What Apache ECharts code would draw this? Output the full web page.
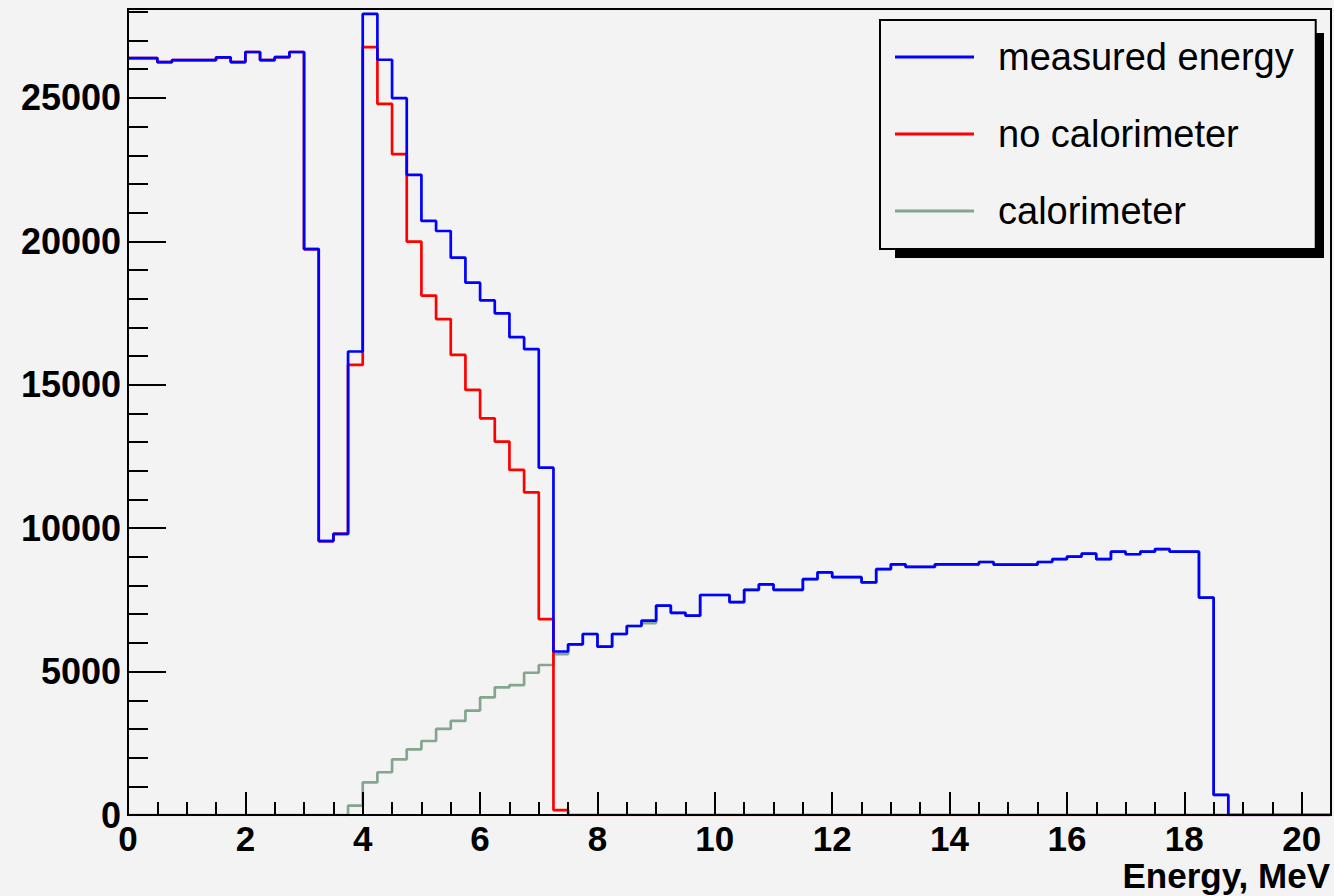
<!DOCTYPE html>
<html>
<head>
<meta charset="utf-8">
<title>Energy spectrum</title>
<script src="https://cdn.jsdelivr.net/npm/echarts@6/dist/echarts.min.js"></script>
<style>
  html, body { margin: 0; padding: 0; background: #f3f3f3; }
  #chart { width: 1334px; height: 896px; }
</style>
</head>
<body>
<div id="chart"></div>
<script>
// Histogram binning (MeV) and axis ranges
const BIN_WIDTH = 0.25;
const X_RANGE = [0, 20.5];
const Y_RANGE = [0, 28100];

const xTickLabels = ['0', '2', '4', '6', '8', '10', '12', '14', '16', '18', '20'];
const yTickLabels = ['0', '5000', '10000', '15000', '20000', '25000'];
const xAxisTitle = 'Energy, MeV';
const seriesNames = ['measured energy', 'no calorimeter', 'calorimeter'];

// Bin contents, first bin starts at 0 MeV
const measuredEnergy = [
  26390, 26390, 26250, 26320, 26320, 26320, 26410, 26250, 26600, 26320, 26420, 26600,
  19730, 9550, 9800, 16160, 27930, 26330, 24990, 22320, 20710, 20360, 19430, 18560,
  17940, 17490, 16660, 16240, 12110, 5700,
  5950, 6310, 5870, 6310, 6590, 6780, 7300, 7050, 6950, 7670, 7670, 7420,
  7850, 8040, 7850, 7850, 8220, 8460, 8290, 8290, 8110, 8570, 8740, 8650,
  8650, 8740, 8740, 8740, 8820, 8730, 8730, 8730, 8820, 8920, 9010, 9110,
  8920, 9180, 9090, 9180, 9270, 9180, 9180, 7580, 700
];

const noCalorimeter = [
  26390, 26390, 26250, 26320, 26320, 26320, 26410, 26250, 26600, 26320, 26420, 26600,
  19730, 9550, 9800, 15690, 26770, 24790, 23040, 19990, 18110, 17290, 16040, 14820,
  13830, 13020, 12030, 11250, 6830, 170
];

const calorimeter = [
  0, 0, 0, 0, 0, 0, 0, 0, 0, 0, 0, 0,
  0, 0, 0, 330, 1140, 1490, 1940, 2290, 2580, 3000, 3280, 3640,
  4100, 4450, 4530, 4960, 5230, 5610,
  5950, 6310, 5870, 6310, 6590, 6690, 7300, 7050, 6950, 7670, 7670, 7420,
  7850, 8040, 7850, 7850, 8220, 8460, 8290, 8290, 8110, 8570, 8740, 8650,
  8650, 8740, 8740, 8740, 8820, 8730, 8730, 8730, 8820, 8920, 9010, 9110,
  8920, 9180, 9090, 9180, 9270, 9180, 9180, 7580, 700
];

const COLORS = {
  'measured energy': '#0000ff',
  'no calorimeter': '#ff0000',
  'calorimeter': '#84a68e'
};

const FONT = "'Liberation Sans', Arial, Helvetica, sans-serif";

// Turn bin contents into step-outline points: [lower edge, content] for every bin,
// then close the last bin down to zero and run along zero to the axis end.
function histogramOutline(bins) {
  const pts = bins.map((v, i) => [i * BIN_WIDTH, v]);
  pts.push([bins.length * BIN_WIDTH, 0]);
  pts.push([X_RANGE[1], 0]);
  return pts;
}

function stepSeries(name, bins, z) {
  return {
    name: name,
    type: 'line',
    step: 'end',
    data: histogramOutline(bins),
    xAxisIndex: 0,
    yAxisIndex: 0,
    showSymbol: false,
    symbol: 'none',
    color: COLORS[name],
    itemStyle: { color: COLORS[name] },
    lineStyle: { color: COLORS[name], width: 2.7 },
    z: z,
    silent: true,
    clip: true
  };
}

const axisLineStyle = { color: '#000', width: 2 };
const labelText = { fontFamily: FONT, fontWeight: 'bold', fontSize: 35, color: '#000', lineHeight: 28 };

const chart = echarts.init(document.getElementById('chart'), null, { renderer: 'svg' });

chart.setOption({
  animation: false,
  backgroundColor: '#f3f3f3',
  grid: {
    left: 128, right: 3, top: 9, bottom: 81,
    containLabel: false,
    outerBoundsMode: 'none',
    show: true, borderColor: '#000', borderWidth: 2, backgroundColor: 'transparent'
  },
  xAxis: [
    {
      type: 'value', position: 'bottom', z: 10,
      min: X_RANGE[0], max: X_RANGE[1], interval: 0.5,
      axisLine: { show: true, onZero: false, lineStyle: axisLineStyle },
      axisTick: { show: true, inside: true, length: 13, lineStyle: axisLineStyle },
      splitLine: { show: false },
      axisLabel: Object.assign({
        margin: 9,
        formatter: v => {
          const s = String(v);
          return xTickLabels.includes(s) ? s : '';
        }
      }, labelText)
    },
    {
      type: 'value', position: 'bottom', z: 10,
      min: X_RANGE[0], max: X_RANGE[1], interval: 2,
      axisLine: { show: false, onZero: false },
      axisTick: { show: true, inside: true, length: 23, lineStyle: axisLineStyle },
      splitLine: { show: false },
      axisLabel: { show: false }
    }
  ],
  yAxis: [
    {
      type: 'value', position: 'left', z: 10,
      min: Y_RANGE[0], max: Y_RANGE[1], interval: 1000,
      axisLine: { show: true, onZero: false, lineStyle: axisLineStyle },
      axisTick: { show: true, inside: true, length: 20, lineStyle: axisLineStyle },
      splitLine: { show: false },
      axisLabel: Object.assign({}, labelText, {
        fontSize: 36,
        margin: 7,
        formatter: v => {
          const s = String(v);
          return yTickLabels.includes(s) ? s : '';
        }
      })
    },
    {
      type: 'value', position: 'left', z: 10,
      min: Y_RANGE[0], max: Y_RANGE[1], interval: 5000,
      axisLine: { show: false, onZero: false },
      axisTick: { show: true, inside: true, length: 38, lineStyle: axisLineStyle },
      splitLine: { show: false },
      axisLabel: { show: false }
    }
  ],
  legend: {
    orient: 'vertical',
    left: 880, top: 20,
    padding: [17, 22, 18, 15],
    itemWidth: 79, itemHeight: 3, itemGap: 37,
    icon: 'rect',
    backgroundColor: '#f3f3f3',
    borderColor: '#000', borderWidth: 2, borderRadius: 0,
    selectedMode: false,
    textStyle: {
      fontFamily: FONT, fontSize: 38, color: '#000',
      lineHeight: 40, padding: [0, 0, 0, 19]
    },
    data: seriesNames
  },
  graphic: [
    {
      // drop shadow behind the legend box
      type: 'rect', z: 1, silent: true,
      shape: { x: 895, y: 33, width: 429, height: 225 },
      style: { fill: '#000' }
    },
    {
      // x-axis title, right-aligned under the axis end
      type: 'text', right: 4, top: 858, z: 10, silent: true,
      style: {
        text: xAxisTitle,
        fontFamily: FONT, fontWeight: 'bold', fontSize: 35, lineHeight: 28,
        fill: '#000'
      }
    }
  ],
  series: [
    stepSeries('calorimeter', calorimeter, 2),
    stepSeries('no calorimeter', noCalorimeter, 3),
    stepSeries('measured energy', measuredEnergy, 4)
  ]
});
</script>
</body>
</html>
